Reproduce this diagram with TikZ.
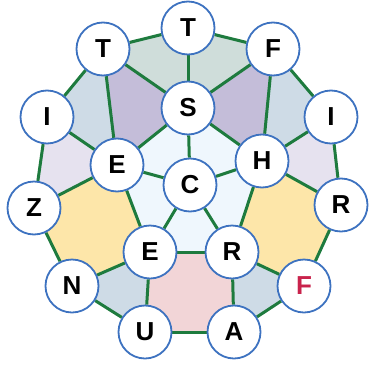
\documentclass[tikz,border=0pt]{standalone}
\usepackage{fontspec}
\setmainfont{Liberation Sans}
\usetikzlibrary{backgrounds}

\definecolor{edgegreen}{HTML}{1E7B3E}
\definecolor{ringblue}{HTML}{3D72C0}
\definecolor{letterred}{HTML}{C9234C}
\definecolor{faceteal}{HTML}{CFDDDA}
\definecolor{facepurple}{HTML}{C4BDD9}
\definecolor{facegray}{HTML}{CEDBE6}
\definecolor{facelilac}{HTML}{E6E2EF}
\definecolor{faceyellow}{HTML}{FDE6A9}
\definecolor{facesky}{HTML}{EFF7FD}
\definecolor{facepink}{HTML}{F2D5D7}

\begin{document}
\begin{tikzpicture}[x=1pt,y=-1pt,
		letter/.style={circle,draw=ringblue,line width=1.8pt,fill=white,minimum size=53pt,inner sep=0pt,font=\fontsize{26}{26}\selectfont\bfseries},
		edge/.style={draw=edgegreen,line width=3pt}]
		\useasboundingbox (0,0) rectangle (382,364);

		% letters
		\node[letter] (ttop) at (188,28) {T};
		\node[letter] (tleft) at (103,49) {T};
		\node[letter] (ftop) at (273,49) {F};
		\node[letter] (ileft) at (47,117) {I};
		\node[letter] (iright) at (331,117) {I};
		\node[letter] (s) at (188,108) {S};
		\node[letter] (eup) at (117,165) {E};
		\node[letter] (h) at (262,161) {H};
		\node[letter] (c) at (190,185) {C};
		\node[letter] (z) at (34,208) {Z};
		\node[letter] (rright) at (341,205) {R};
		\node[letter] (elow) at (150,252) {E};
		\node[letter] (rlow) at (232,252) {R};
		\node[letter] (n) at (72,286) {N};
		\node[letter,text=letterred] (fred) at (304,286) {F};
		\node[letter] (u) at (145,332) {U};
		\node[letter] (a) at (234,332) {A};

		\begin{scope}[on background layer]
			% faces
			\fill[faceteal] (ttop.center) -- (tleft.center) -- (s.center) -- cycle;
			\fill[faceteal] (ttop.center) -- (ftop.center) -- (s.center) -- cycle;
			\fill[facepurple] (tleft.center) -- (s.center) -- (eup.center) -- cycle;
			\fill[facepurple] (ftop.center) -- (s.center) -- (h.center) -- cycle;
			\fill[facegray] (tleft.center) -- (ileft.center) -- (eup.center) -- cycle;
			\fill[facegray] (ftop.center) -- (iright.center) -- (h.center) -- cycle;
			\fill[facelilac] (ileft.center) -- (z.center) -- (eup.center) -- cycle;
			\fill[facelilac] (iright.center) -- (rright.center) -- (h.center) -- cycle;
			\fill[faceyellow] (z.center) -- (eup.center) -- (elow.center) -- (n.center) -- cycle;
			\fill[faceyellow] (rright.center) -- (h.center) -- (rlow.center) -- (fred.center) -- cycle;
			\fill[facegray] (n.center) -- (elow.center) -- (u.center) -- cycle;
			\fill[facegray] (fred.center) -- (rlow.center) -- (a.center) -- cycle;
			\fill[facepink] (elow.center) -- (rlow.center) -- (a.center) -- (u.center) -- cycle;
			\fill[facesky] (s.center) -- (h.center) -- (rlow.center) -- (elow.center) -- (eup.center) -- cycle;

			% edges
			\draw[edge] (ttop) -- (tleft);
			\draw[edge] (ttop) -- (ftop);
			\draw[edge] (ttop) -- (s);
			\draw[edge] (tleft) -- (s);
			\draw[edge] (ftop) -- (s);
			\draw[edge] (tleft) -- (eup);
			\draw[edge] (ftop) -- (h);
			\draw[edge] (tleft) -- (ileft);
			\draw[edge] (ftop) -- (iright);
			\draw[edge] (ileft) -- (eup);
			\draw[edge] (iright) -- (h);
			\draw[edge] (ileft) -- (z);
			\draw[edge] (iright) -- (rright);
			\draw[edge] (s) -- (eup);
			\draw[edge] (s) -- (h);
			\draw[edge] (s) -- (c);
			\draw[edge] (eup) -- (c);
			\draw[edge] (h) -- (c);
			\draw[edge] (z) -- (eup);
			\draw[edge] (rright) -- (h);
			\draw[edge] (eup) -- (elow);
			\draw[edge] (h) -- (rlow);
			\draw[edge] (z) -- (n);
			\draw[edge] (rright) -- (fred);
			\draw[edge] (n) -- (elow);
			\draw[edge] (fred) -- (rlow);
			\draw[edge] (elow) -- (c);
			\draw[edge] (rlow) -- (c);
			\draw[edge] (elow) -- (rlow);
			\draw[edge] (n) -- (u);
			\draw[edge] (fred) -- (a);
			\draw[edge] (elow) -- (u);
			\draw[edge] (rlow) -- (a);
			\draw[edge] (u) -- (a);
		\end{scope}
	\end{tikzpicture}
\end{document}
